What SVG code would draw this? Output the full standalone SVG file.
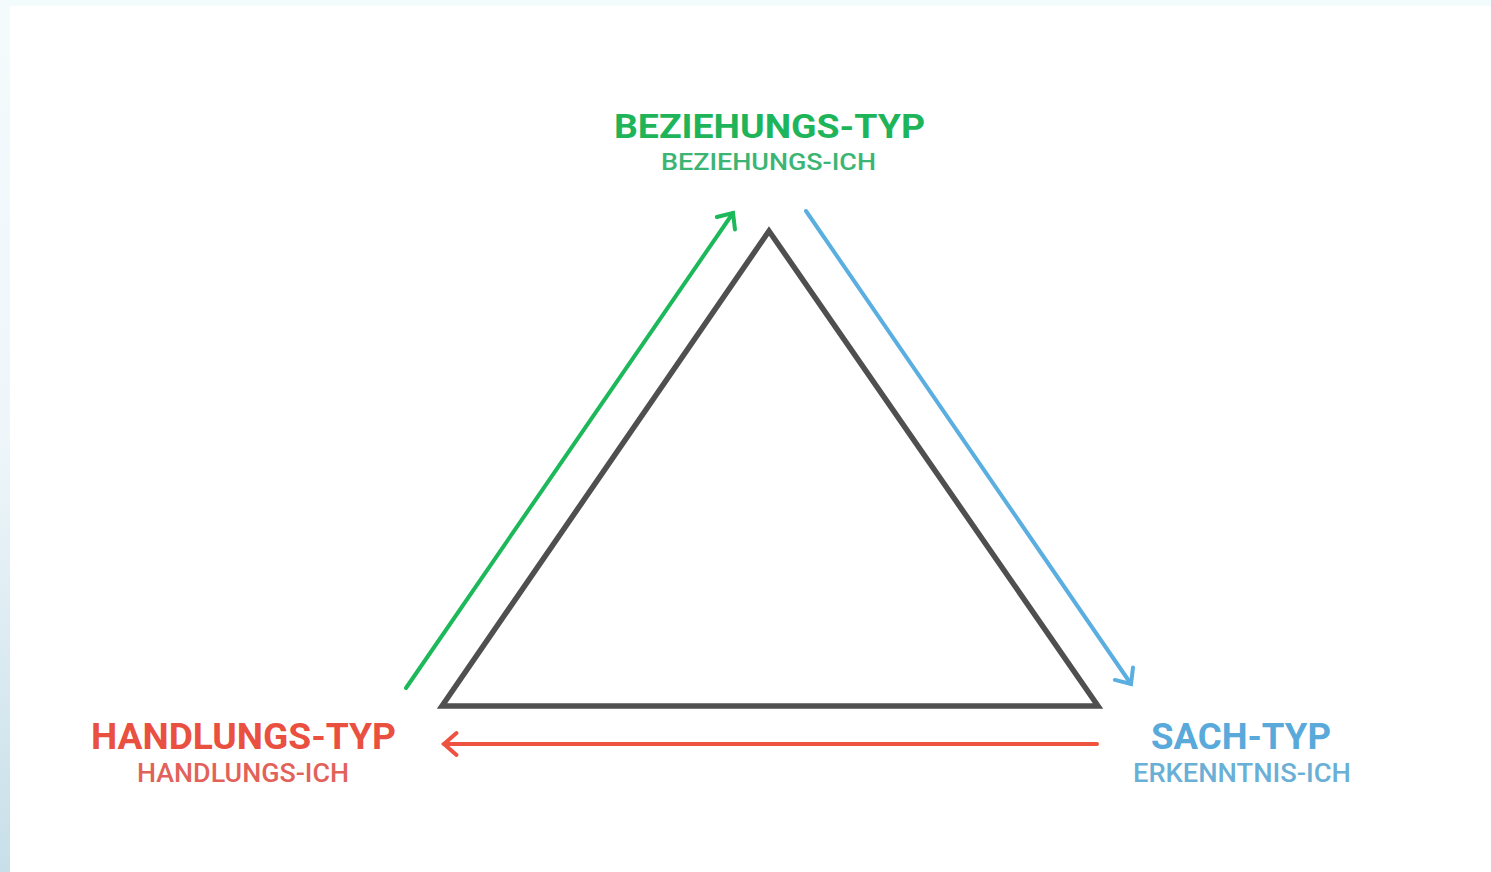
<svg xmlns="http://www.w3.org/2000/svg" width="1491" height="872" viewBox="0 0 1491 872">
  <style>
    .t { font-family: Roboto, "Liberation Sans", sans-serif; font-weight: 700; }
    .s { font-family: Roboto, "Liberation Sans", sans-serif; font-weight: 500; }
    .tri { fill: none; stroke: #4f4f4f; stroke-width: 5.5; stroke-linejoin: miter; }
    .conn { fill: none; stroke-width: 4; stroke-linecap: round; }
  </style>
  <defs>
    <linearGradient id="edge" x1="0" y1="0" x2="0" y2="1">
      <stop offset="0" stop-color="#f4fbfd"/>
      <stop offset="0.5" stop-color="#eef6fa"/>
      <stop offset="1" stop-color="#c8dfe9"/>
    </linearGradient>
    <marker id="mg" markerUnits="userSpaceOnUse" viewBox="-16 -14 20 28" refX="0" refY="0" markerWidth="20" markerHeight="28" orient="auto">
      <path d="M-12.5 -11 L0 0 L-12.5 11" fill="none" stroke="#1cb85a" stroke-width="4" stroke-linecap="round" stroke-linejoin="miter"/>
    </marker>
    <marker id="mb" markerUnits="userSpaceOnUse" viewBox="-16 -14 20 28" refX="0" refY="0" markerWidth="20" markerHeight="28" orient="auto">
      <path d="M-12.5 -11 L0 0 L-12.5 11" fill="none" stroke="#5aaee0" stroke-width="4" stroke-linecap="round" stroke-linejoin="miter"/>
    </marker>
    <marker id="mr" markerUnits="userSpaceOnUse" viewBox="-16 -14 20 28" refX="0" refY="0" markerWidth="20" markerHeight="28" orient="auto">
      <path d="M-12.5 -11 L0 0 L-12.5 11" fill="none" stroke="#ee5240" stroke-width="4" stroke-linecap="round" stroke-linejoin="miter"/>
    </marker>
  </defs>

  <rect x="0" y="0" width="1491" height="872" fill="#ffffff"/>
  <rect x="0" y="0" width="1491" height="6" fill="#f3fcfd"/>
  <rect x="0" y="0" width="10" height="872" fill="url(#edge)"/>

  <g id="triangle">
    <polygon class="tri" points="769,231 442,706 1098,706"/>
  </g>

  <g id="connectors">
    <line class="conn" x1="406" y1="688" x2="733" y2="213" stroke="#1cb85a" marker-end="url(#mg)"/>
    <line class="conn" x1="806" y1="211" x2="1131" y2="684" stroke="#5aaee0" marker-end="url(#mb)"/>
    <line class="conn" x1="1097" y1="744" x2="444" y2="744" stroke="#ee5240" marker-end="url(#mr)"/>
  </g>

  <g id="node-beziehung">
    <text class="t" x="614" y="138" font-size="33" textLength="311" lengthAdjust="spacingAndGlyphs" fill="#1db45a">BEZIEHUNGS-TYP</text>
    <text class="s" x="661" y="170" font-size="23" textLength="215" lengthAdjust="spacingAndGlyphs" fill="#3cb574">BEZIEHUNGS-ICH</text>
  </g>

  <g id="node-handlung">
    <text class="t" x="91" y="749" font-size="36" textLength="305" lengthAdjust="spacingAndGlyphs" fill="#e9503f">HANDLUNGS-TYP</text>
    <text class="s" x="137" y="782" font-size="25" textLength="212" lengthAdjust="spacingAndGlyphs" fill="#e2625a">HANDLUNGS-ICH</text>
  </g>

  <g id="node-sach">
    <text class="t" x="1151" y="749" font-size="36" textLength="180" lengthAdjust="spacingAndGlyphs" fill="#59a9da">SACH-TYP</text>
    <text class="s" x="1133" y="782" font-size="25" textLength="218" lengthAdjust="spacingAndGlyphs" fill="#6aafd6">ERKENNTNIS-ICH</text>
  </g>
</svg>
